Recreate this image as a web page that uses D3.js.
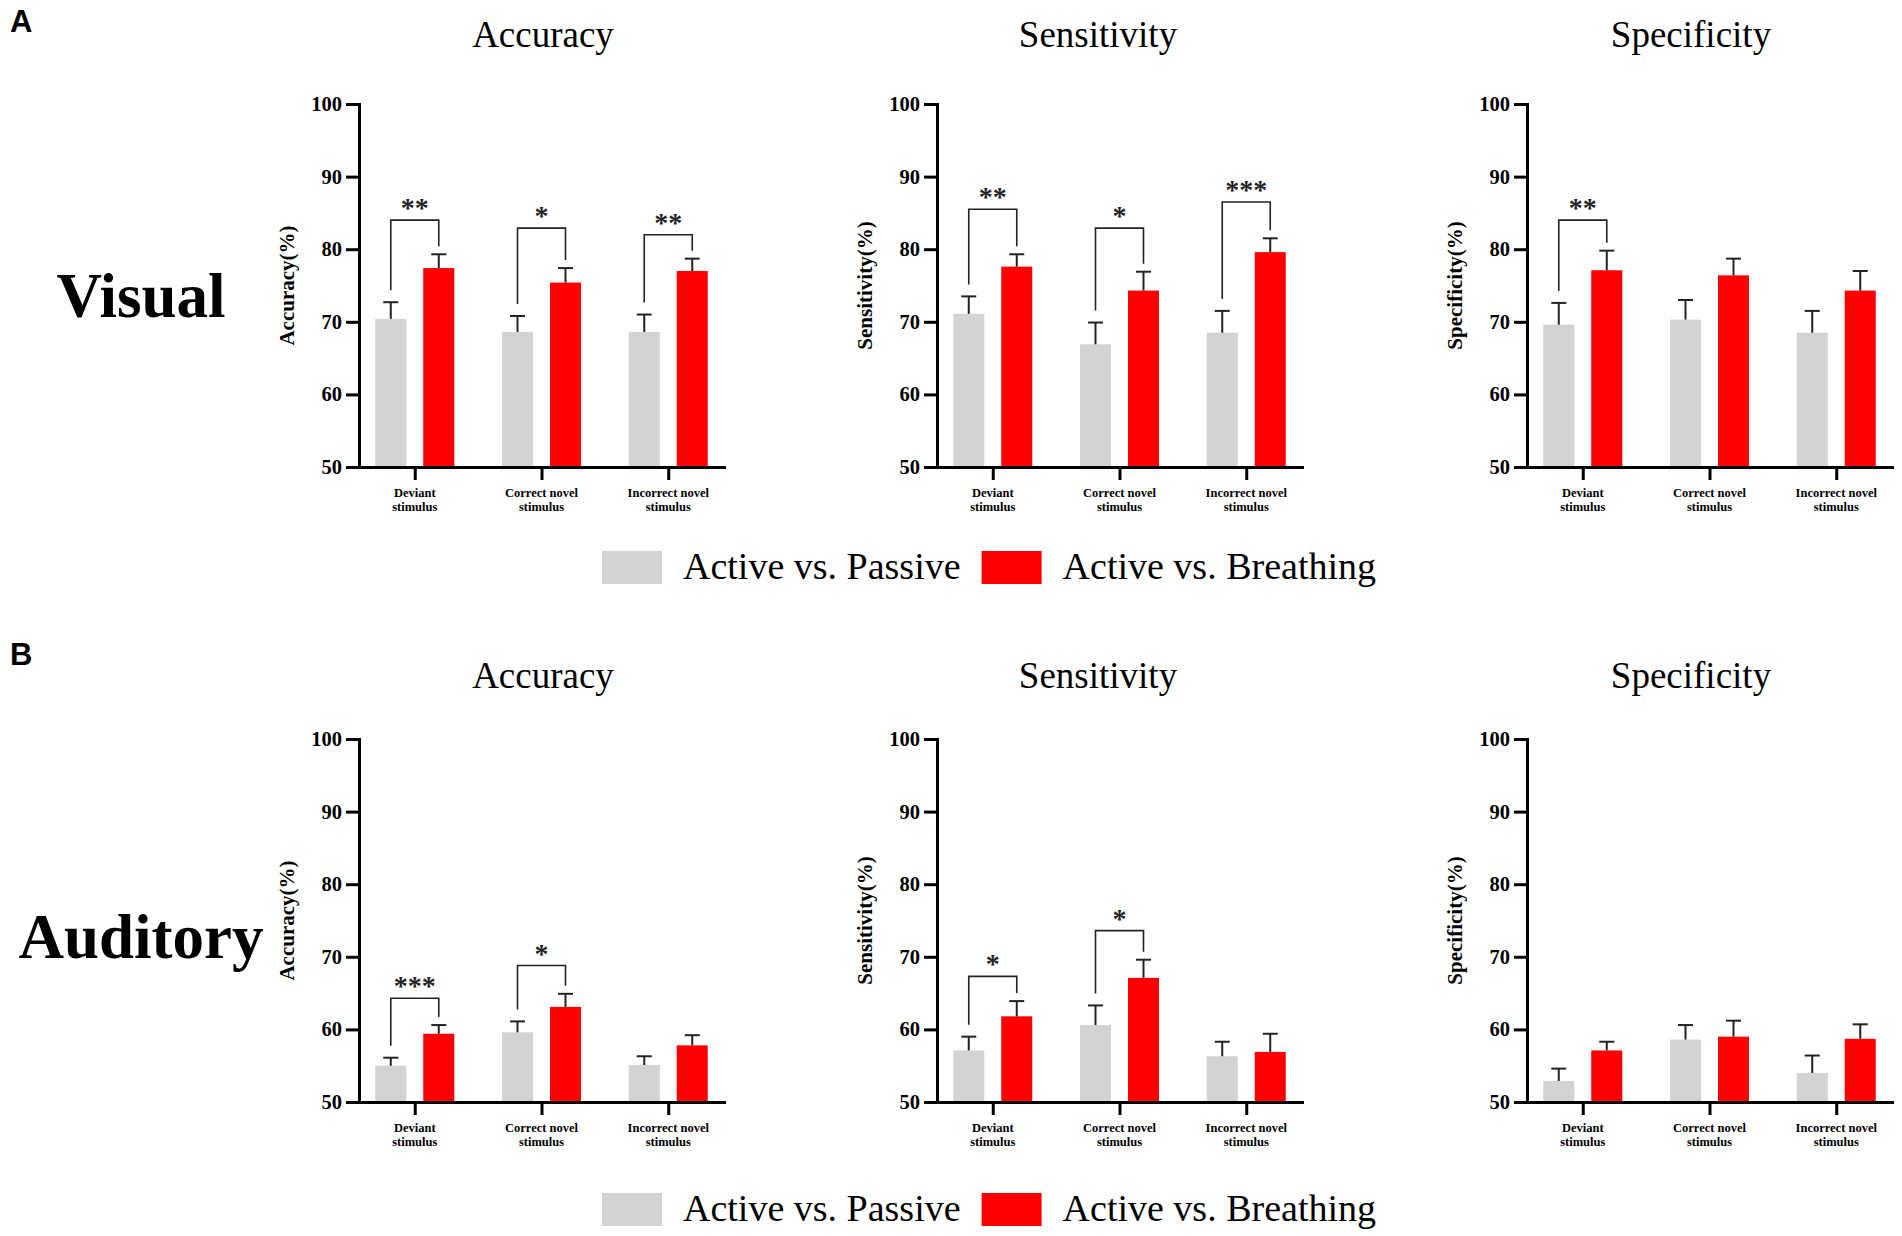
<!DOCTYPE html>
<html>
<head>
<meta charset="utf-8">
<script src="https://cdn.jsdelivr.net/npm/d3@7"></script>
<style>
body { margin: 0; background: #fff; }
svg { display: block; }
</style>
</head>
<body>
<svg width="1902" height="1236"></svg>
<script>
var categories = [["Deviant", "stimulus"], ["Correct novel", "stimulus"], ["Incorrect novel", "stimulus"]];
var series = ["Active vs. Passive", "Active vs. Breathing"];
var colors = ["#d3d3d3", "#ff0000"];
var metrics = ["Accuracy", "Sensitivity", "Specificity"];
var yTicks = [50, 60, 70, 80, 90, 100];

// A - Visual: means and SEM (upper error only)
var visAccPassive = [70.4, 68.6, 68.6], visAccPassiveSem = [2.3, 2.2, 2.4];
var visAccBreath = [77.4, 75.4, 77.0], visAccBreathSem = [1.9, 2.0, 1.7];
var visSenPassive = [71.1, 66.9, 68.5], visSenPassiveSem = [2.4, 3.0, 3.0];
var visSenBreath = [77.6, 74.3, 79.6], visSenBreathSem = [1.7, 2.6, 1.9];
var visSpePassive = [69.6, 70.3, 68.5], visSpePassiveSem = [3.0, 2.7, 3.0];
var visSpeBreath = [77.1, 76.4, 74.3], visSpeBreathSem = [2.7, 2.3, 2.7];

// B - Auditory
var audAccPassive = [55.0, 59.6, 55.1], audAccPassiveSem = [1.1, 1.5, 1.2];
var audAccBreath = [59.4, 63.1, 57.8], audAccBreathSem = [1.2, 1.8, 1.4];
var audSenPassive = [57.1, 60.6, 56.3], audSenPassiveSem = [1.9, 2.7, 2.0];
var audSenBreath = [61.8, 67.1, 56.9], audSenBreathSem = [2.1, 2.5, 2.5];
var audSpePassive = [52.9, 58.6, 54.0], audSpePassiveSem = [1.7, 2.0, 2.4];
var audSpeBreath = [57.1, 59.0, 58.7], audSpeBreathSem = [1.2, 2.2, 2.0];

// significance brackets: [category index, bracket level, stars]
var visAccSig = [[0, 84.0, "**"], [1, 82.9, "*"], [2, 82.0, "**"]];
var visSenSig = [[0, 85.5, "**"], [1, 82.9, "*"], [2, 86.5, "***"]];
var visSpeSig = [[0, 84.0, "**"]];
var audAccSig = [[0, 64.3, "***"], [1, 68.8, "*"]];
var audSenSig = [[0, 67.3, "*"], [1, 73.6, "*"]];
var audSpeSig = [];

var rows = [
    { letter: "A", label: "Visual", panels: [
        { means: [visAccPassive, visAccBreath], sems: [visAccPassiveSem, visAccBreathSem], sig: visAccSig },
        { means: [visSenPassive, visSenBreath], sems: [visSenPassiveSem, visSenBreathSem], sig: visSenSig },
        { means: [visSpePassive, visSpeBreath], sems: [visSpePassiveSem, visSpeBreathSem], sig: visSpeSig }
    ]},
    { letter: "B", label: "Auditory", panels: [
        { means: [audAccPassive, audAccBreath], sems: [audAccPassiveSem, audAccBreathSem], sig: audAccSig },
        { means: [audSenPassive, audSenBreath], sems: [audSenPassiveSem, audSenBreathSem], sig: audSenSig },
        { means: [audSpePassive, audSpeBreath], sems: [audSpePassiveSem, audSpeBreathSem], sig: audSpeSig }
    ]}
];

var SERIF = "'Liberation Serif', 'Times New Roman', serif";
var SANS = "'Liberation Sans', Arial, sans-serif";
var INK = "#222";

var svg = d3.select("svg");

// layout
var colX = [359, 937, 1527],
    titleX = [543, 1098, 1691],
    axisTop = [104, 739],
    textDy = [0, 641],
    legendDy = [0, 642],
    plotW = 365,
    plotH = 363;

var x = d3.scalePoint().domain(d3.range(categories.length)).range([0, plotW]).padding(0.44);
var xSub = d3.scaleBand().domain(d3.range(series.length)).range([-39.5, 39.5]).paddingInner(0.354);
var y = d3.scaleLinear().domain([50, 100]).range([plotH, 0]);

function drawPanel(g, panel, metric) {
    // bars
    categories.forEach(function(c, i) {
        series.forEach(function(s, k) {
            var m = panel.means[k][i], e = panel.sems[k][i];
            var cx = x(i) + xSub(k) + xSub.bandwidth() / 2;
            g.append("rect")
                .attr("x", x(i) + xSub(k))
                .attr("width", xSub.bandwidth())
                .attr("y", y(m))
                .attr("height", y(50) - y(m))
                .attr("fill", colors[k]);
            g.append("line") // ERROR BAR
                .attr("x1", cx).attr("x2", cx)
                .attr("y1", y(m)).attr("y2", y(m + e))
                .attr("stroke", INK).attr("stroke-width", 2);
            g.append("line") // CAP
                .attr("x1", cx - 7.5).attr("x2", cx + 7.5)
                .attr("y1", y(m + e)).attr("y2", y(m + e))
                .attr("stroke", INK).attr("stroke-width", 2);
        });
    });

    // significance brackets
    panel.sig.forEach(function(b) {
        var i = b[0];
        var xl = x(i) + xSub(0) + xSub.bandwidth() / 2,
            xr = x(i) + xSub(1) + xSub.bandwidth() / 2;
        var yl = y(panel.means[0][i] + panel.sems[0][i]) - 12,
            yr = y(panel.means[1][i] + panel.sems[1][i]) - 8,
            yb = y(b[1]);
        g.append("path")
            .attr("d", "M" + xl + "," + yl + "V" + yb + "H" + xr + "V" + yr)
            .attr("fill", "none")
            .attr("stroke", INK)
            .attr("stroke-width", 1.6);
        g.append("text")
            .attr("x", (xl + xr) / 2)
            .attr("y", yb - 3)
            .attr("text-anchor", "middle")
            .attr("font-family", SERIF)
            .attr("font-weight", "bold")
            .attr("font-size", 28)
            .attr("fill", INK)
            .text(b[2]);
    });

    // x axis
    var xa = g.append("g")
        .attr("transform", "translate(0," + plotH + ")")
        .call(d3.axisBottom(x).tickSize(13).tickSizeOuter(0).tickFormat(""));
    // y axis
    var ya = g.append("g")
        .call(d3.axisLeft(y).tickValues(yTicks).tickSize(13).tickSizeOuter(0).tickPadding(4));
    [xa, ya].forEach(function(a) {
        a.select(".domain").attr("stroke", "#000").attr("stroke-width", 3).attr("stroke-linecap", "square");
        a.selectAll(".tick line").attr("stroke", "#000").attr("stroke-width", 3);
    });
    ya.selectAll(".tick text")
        .attr("font-family", SERIF)
        .attr("font-weight", "bold")
        .attr("font-size", 20.5)
        .attr("fill", "#000");

    // category labels
    categories.forEach(function(c, i) {
        c.forEach(function(line, j) {
            g.append("text")
                .attr("x", x(i))
                .attr("y", plotH + 30 + j * 14)
                .attr("text-anchor", "middle")
                .attr("font-family", SERIF)
                .attr("font-weight", "bold")
                .attr("font-size", 12.5)
                .text(line);
        });
    });

    // y label
    g.append("text")
        .attr("transform", "translate(-65," + plotH / 2 + ") rotate(-90)")
        .attr("text-anchor", "middle")
        .attr("font-family", SERIF)
        .attr("font-weight", "bold")
        .attr("font-size", 21)
        .text(metric + "(%)");
}

rows.forEach(function(row, r) {
    var dy = textDy[r];

    svg.append("text") // panel letter
        .attr("x", 10).attr("y", 32 + (r ? 633 : 0))
        .attr("font-family", SANS).attr("font-weight", "bold").attr("font-size", 31)
        .text(row.letter);

    svg.append("text") // row label
        .attr("x", 141).attr("y", 317 + dy)
        .attr("text-anchor", "middle")
        .attr("font-family", SERIF).attr("font-weight", "bold").attr("font-size", 63)
        .text(row.label);

    row.panels.forEach(function(panel, c) {
        svg.append("text") // title
            .attr("x", titleX[c]).attr("y", 47 + dy)
            .attr("text-anchor", "middle")
            .attr("font-family", SERIF).attr("font-size", 37)
            .text(metrics[c]);

        var g = svg.append("g")
            .attr("transform", "translate(" + colX[c] + "," + axisTop[r] + ")");
        drawPanel(g, panel, metrics[c]);
    });

    // legend
    var lx = 602, ly = 551 + legendDy[r];
    series.forEach(function(s, k) {
        svg.append("rect")
            .attr("x", lx).attr("y", ly)
            .attr("width", 60).attr("height", 33)
            .attr("fill", colors[k]);
        var t = svg.append("text")
            .attr("x", lx + 81).attr("y", ly + 28)
            .attr("font-family", SERIF).attr("font-size", 38)
            .text(s);
        lx = lx + 81 + t.node().getComputedTextLength() + 21;
    });
});
</script>
</body>
</html>
